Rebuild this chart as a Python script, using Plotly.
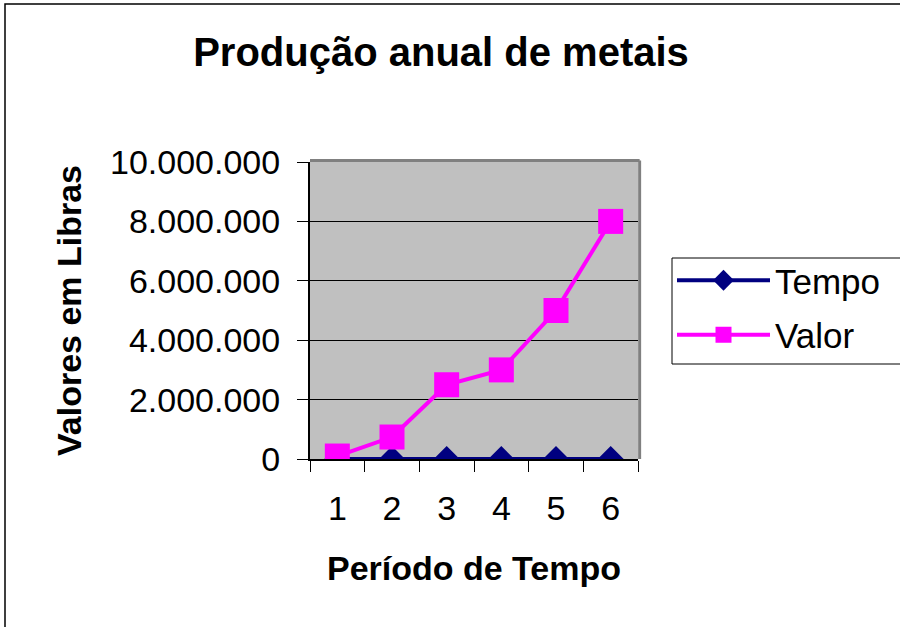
import plotly.graph_objects as go

categories = ["1", "2", "3", "4", "5", "6"]
tempo = [1, 2, 3, 4, 5, 6]
valor = [100000, 740000, 2500000, 3000000, 5000000, 8000000]
y_ticks = [0, 2000000, 4000000, 6000000, 8000000, 10000000]

W, H = 900, 627
L, R, T, B = 310, 262, 162, 168
pw, ph = W - L - R, H - T - B

def px_x(x):
    return (x - L) / pw

def px_y(y):
    return (H - B - y) / ph

FONT = "Liberation Sans, Arial, sans-serif"

fig = go.Figure()
fig.add_trace(go.Scatter(
    x=categories, y=tempo, name="Tempo", mode="lines+markers",
    legendgroup="a",
    line=dict(color="#000080", width=4),
    marker=dict(symbol="diamond", size=20, color="#000080"),
))
fig.add_trace(go.Scatter(
    x=categories, y=valor, name="Valor", mode="lines+markers",
    legendgroup="b",
    line=dict(color="#FF00FF", width=4),
    marker=dict(symbol="square", size=25, color="#FF00FF"),
))

fig.update_layout(
    width=W, height=H,
    margin=dict(l=L, r=R, t=T, b=B),
    paper_bgcolor="white",
    plot_bgcolor="#C0C0C0",
    separators=",.",
    font=dict(family=FONT, size=34, color="black"),
    title=dict(text="<b>Produção anual de metais</b>", x=441 / W, xref="container",
               xanchor="center", y=1 - 52 / H, yref="container", yanchor="middle",
               font=dict(size=40, family=FONT, color="black")),
    showlegend=True,
    legend=dict(x=px_x(672), y=px_y(251), xanchor="left", yanchor="top",
                borderwidth=0, bgcolor="rgba(0,0,0,0)",
                font=dict(size=35, family=FONT), itemwidth=93,
                entrywidth=200, tracegroupgap=6),
    xaxis=dict(
        type="category", range=[-0.5, 5.5], tickson="boundaries",
        ticks="outside", ticklen=11, tickcolor="black", tickwidth=1,
        showline=True, linecolor="black", linewidth=2, showgrid=False,
        tickfont=dict(size=34), ticklabelstandoff=18,
        title=dict(text="<b>Período de Tempo</b>", font=dict(size=34), standoff=30),
    ),
    yaxis=dict(
        range=[0, 10000000], tickvals=y_ticks, tickformat=",.0f",
        ticks="outside", ticklen=11, tickcolor="black", tickwidth=1,
        showline=True, linecolor="black", linewidth=2,
        showgrid=True, gridcolor="black", gridwidth=1, zeroline=False,
        tickfont=dict(size=34), ticklabelstandoff=10,
        title=dict(text="<b>Valores em Libras</b>", font=dict(size=34), standoff=18),
    ),
    shapes=[
        dict(type="line", xref="paper", yref="paper", x0=0, x1=1.005, y0=1.005, y1=1.005,
             line=dict(color="#808080", width=3)),
        dict(type="line", xref="paper", yref="paper", x0=1.005, x1=1.005, y0=0, y1=1.005,
             line=dict(color="#808080", width=3)),
        dict(type="rect", xref="paper", yref="paper",
             x0=px_x(5), x1=px_x(960), y0=px_y(700), y1=px_y(4),
             line=dict(color="black", width=1.5), fillcolor="rgba(0,0,0,0)"),
        dict(type="rect", xref="paper", yref="paper",
             x0=px_x(672), x1=px_x(960), y0=px_y(364), y1=px_y(258),
             line=dict(color="black", width=1), fillcolor="rgba(0,0,0,0)"),
    ],
)

fig.write_html("out.html", config={"displayModeBar": False},
               post_script="document.body.style.margin='0';")
